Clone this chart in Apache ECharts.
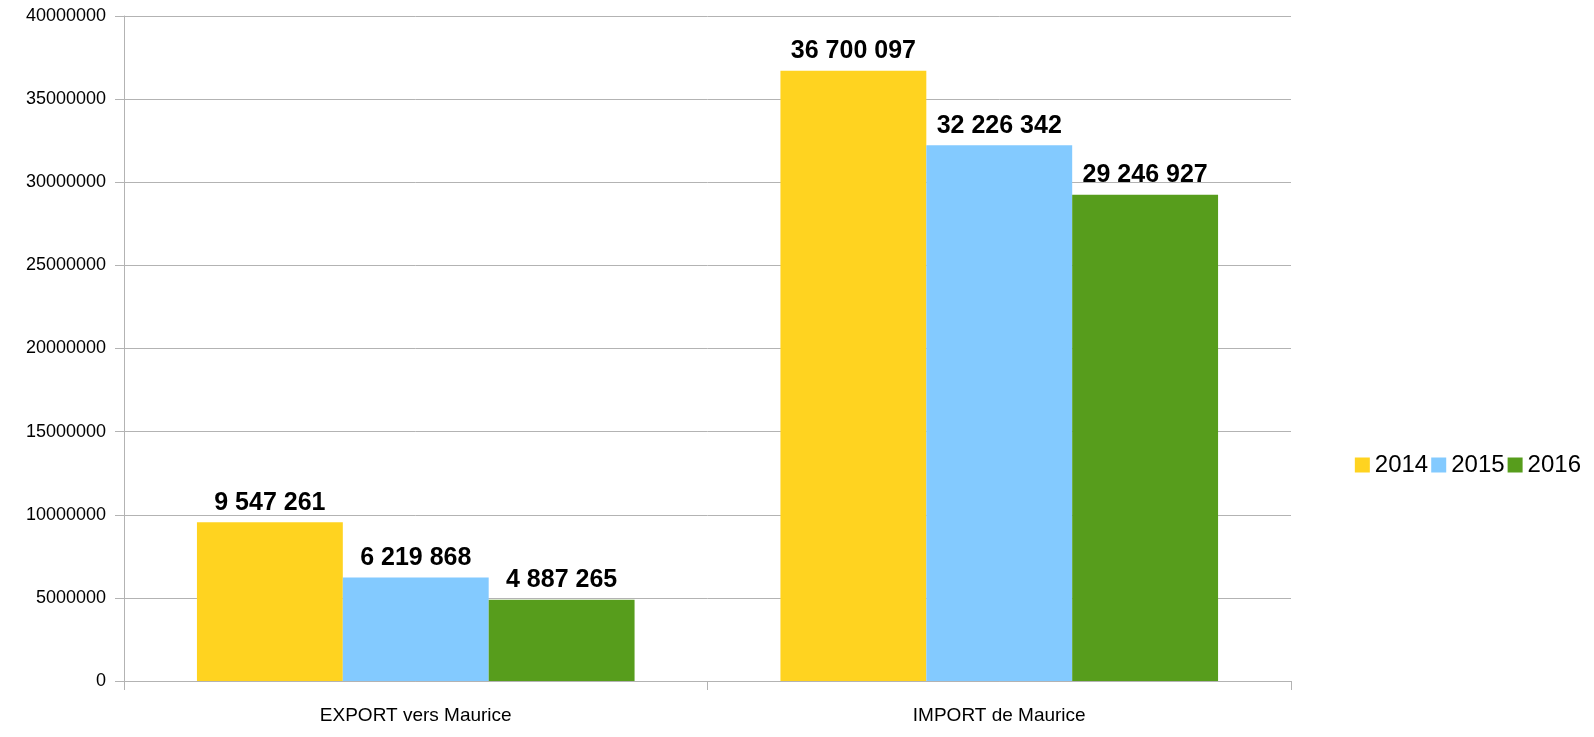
<!DOCTYPE html>
<html><head><meta charset="utf-8">
<script src="https://cdn.jsdelivr.net/npm/echarts@6/dist/echarts.min.js"></script>
<style>html,body{margin:0;padding:0;background:#fff}#c{width:1594px;height:737px}</style>
</head><body><div id="c"></div>
<script>
const categories = ['EXPORT vers Maurice', 'IMPORT de Maurice'];
const seriesNames = ['2014', '2015', '2016'];
const values2014 = [9547261, 36700097];
const values2015 = [6219868, 32226342];
const values2016 = [4887265, 29246927];
const colors = ['#FFD320', '#83CAFF', '#579D1C'];
const allValues = [values2014, values2015, values2016];

function fmt(v){ return String(v).replace(/\B(?=(\d{3})+(?!\d))/g, ' '); }

const FONT = 'Liberation Sans, Arial, sans-serif';
const chart = echarts.init(document.getElementById('c'));
chart.setOption({
  animation: false,
  textStyle: {fontFamily: FONT},
  grid: {left: 124, right: 303, top: 16, bottom: 56, containLabel: false},
  legend: {
    right: 8, top: 448, orient: 'horizontal',
    itemWidth: 15, itemHeight: 15, itemGap: 3,
    icon: 'rect',
    textStyle: {fontSize: 24, color: '#000', fontFamily: FONT},
    data: seriesNames
  },
  xAxis: {
    type: 'category', data: categories,
    axisLine: {lineStyle: {color: '#b3b3b3', width: 1}},
    axisTick: {show: true, length: 9, lineStyle: {color: '#b3b3b3'}},
    axisLabel: {fontSize: 19, color: '#000', margin: 25, fontFamily: FONT}
  },
  yAxis: {
    type: 'value', min: 0, max: 40000000, interval: 5000000,
    axisLine: {show: true, lineStyle: {color: '#b3b3b3'}},
    axisTick: {show: true, length: 9, lineStyle: {color: '#b3b3b3'}},
    splitLine: {lineStyle: {color: '#b3b3b3'}},
    axisLabel: {fontSize: 18, color: '#000', margin: 18, fontFamily: FONT, formatter: v => String(v)}
  },
  series: seriesNames.map((n, i) => ({
    name: n, type: 'bar', data: allValues[i],
    itemStyle: {color: colors[i]},
    barGap: '0%', barCategoryGap: '25%',
    label: {show: true, position: 'top', fontSize: 25, fontWeight: 'bold', color: '#000', distance: 7, fontFamily: FONT,
      formatter: p => fmt(p.value)}
  }))
});
</script></body></html>
